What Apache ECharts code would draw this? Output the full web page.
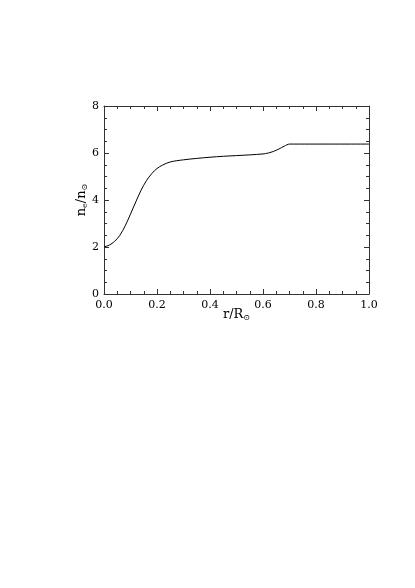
<!DOCTYPE html>
<html>
<head>
<meta charset="utf-8">
<script src="https://cdn.jsdelivr.net/npm/echarts@6/dist/echarts.min.js"></script>
<style>
  html, body { margin: 0; padding: 0; background: #fff; }
  #chart { width: 415px; height: 588px; }
</style>
</head>
<body>
<div id="chart"></div>
<script>
// radius r/R_sun
let radius = [0, 0.02, 0.04, 0.06, 0.08, 0.10, 0.12, 0.14, 0.16, 0.18, 0.20, 0.22, 0.25, 0.30,
  0.35, 0.40, 0.45, 0.50, 0.55, 0.60, 0.62, 0.64, 0.66, 0.68, 0.70, 0.72, 1.00];
// density ratio n_e/n_sun
let ratio = [2.00, 2.08, 2.24, 2.50, 2.90, 3.40, 3.92, 4.42, 4.82, 5.12, 5.34, 5.48, 5.62, 5.71,
  5.77, 5.82, 5.86, 5.89, 5.92, 5.96, 6.00, 6.07, 6.17, 6.29, 6.38, 6.38, 6.38];

let font = 'DejaVu Serif';
let boxColor = '#333';

let chartDom = document.getElementById('chart');
let myChart = echarts.init(chartDom);

let pts = radius.map((r, i) => [r, ratio[i]]);

function frameAxis(extra) {
  return Object.assign({
    axisLine: { show: true, onZero: false, lineStyle: { color: boxColor, width: 1 } },
    axisTick: { show: true, inside: true, length: 5, lineStyle: { color: boxColor } },
    minorTick: { show: true, splitNumber: 4, length: 3, lineStyle: { color: boxColor } },
    splitLine: { show: false },
    minorSplitLine: { show: false }
  }, extra);
}

let labelStyle = { color: '#000', fontFamily: font, fontSize: 11 };
let nameRich = {
  n: { fontFamily: font, fontSize: 13, color: '#000' },
  s: { fontFamily: font, fontSize: 8, color: '#000', padding: [6, 0, 0, 0] }
};

let option = {
  animation: false,
  grid: { left: 104, right: 46, top: 106, bottom: 294 },
  xAxis: [
    frameAxis({
      type: 'value', min: 0, max: 1, interval: 0.2, position: 'bottom',
      axisLabel: Object.assign({ margin: 6, formatter: v => v.toFixed(1) }, labelStyle),
      name: '{n|r/R}{s|⊙}', nameLocation: 'middle', nameGap: 14, nameMoveOverlap: false,
      nameTextStyle: { rich: nameRich }
    }),
    frameAxis({
      type: 'value', min: 0, max: 1, interval: 0.2, position: 'top',
      axisLabel: { show: false }
    })
  ],
  yAxis: [
    frameAxis({
      type: 'value', min: 0, max: 8, interval: 2, position: 'left',
      axisLabel: Object.assign({ margin: 5 }, labelStyle),
      name: '{n|n}{s|e}{n|/n}{s|⊙}', nameLocation: 'middle', nameGap: 15, nameRotate: 90,
      nameMoveOverlap: false,
      nameTextStyle: { rich: nameRich }
    }),
    frameAxis({
      type: 'value', min: 0, max: 8, interval: 2, position: 'right',
      axisLabel: { show: false }
    })
  ],
  series: [
    {
      type: 'line',
      data: pts,
      showSymbol: false,
      smooth: 0.3,
      lineStyle: { color: '#000', width: 1 }
    }
  ]
};
option && myChart.setOption(option);
</script>
</body>
</html>
